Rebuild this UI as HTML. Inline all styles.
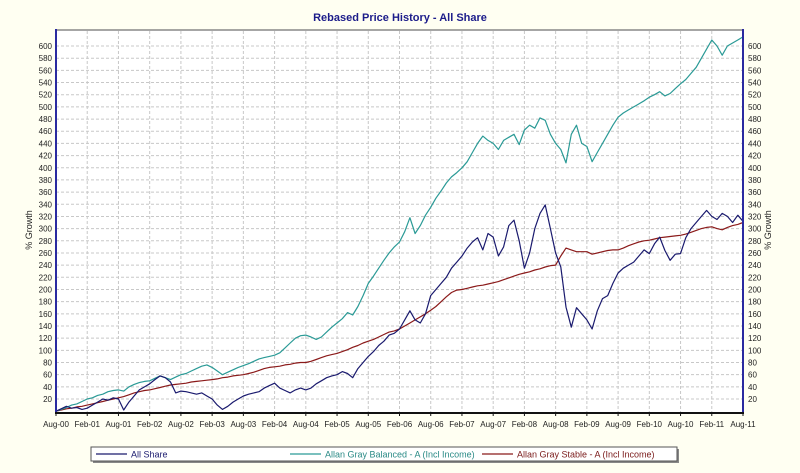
<!DOCTYPE html>
<html><head><meta charset="utf-8"><style>
body{margin:0;background:#fffff2;}
svg{display:block;font-family:"Liberation Sans",sans-serif;}
</style></head><body>
<svg id="chart" width="800" height="473">
<rect x="0" y="0" width="800" height="473" fill="#fffff2"/>
<text x="400" y="21" text-anchor="middle" font-size="11" font-weight="bold" fill="#1c1c8a">Rebased Price History - All Share</text>
<rect x="56" y="30" width="687" height="383" fill="#ffffff"/>
<g id="grid"></g>
<g id="series"></g>
<line x1="56" y1="30" x2="743" y2="30" stroke="#888" stroke-width="1.5"/>
<line x1="56" y1="29" x2="56" y2="414" stroke="#2a2aa0" stroke-width="2"/>
<line x1="743" y1="29" x2="743" y2="414" stroke="#2a2aa0" stroke-width="2"/>
<line x1="55" y1="413" x2="744" y2="413" stroke="#111" stroke-width="2"/>
<g id="labels"></g>
<text transform="translate(32,230) rotate(-90)" text-anchor="middle" font-size="9" fill="#222">% Growth</text>
<text transform="translate(771,230) rotate(-90)" text-anchor="middle" font-size="9" fill="#222">% Growth</text>
<g>
<rect x="93" y="449" width="586" height="14" fill="#888"/>
<rect x="91" y="447" width="586" height="14" fill="#fff" stroke="#555" stroke-width="1"/>
<g><line x1="96" y1="454" x2="127" y2="454" stroke="#1a1a6e" stroke-width="1.2"/><text x="131" y="457.5" font-size="9" fill="#1a1a6e">All Share</text></g>
<g><line x1="290" y1="454" x2="321" y2="454" stroke="#2a9a96" stroke-width="1.2"/><text x="325" y="457.5" font-size="9" fill="#2a8a86">Allan Gray Balanced - A (Incl Income)</text></g>
<g><line x1="482" y1="454" x2="513" y2="454" stroke="#8b1a1a" stroke-width="1.2"/><text x="517" y="457.5" font-size="9" fill="#7a1a1a">Allan Gray Stable - A (Incl Income)</text></g>
</g>
</svg>
<script>
const xTickLabels=["Aug-00","Feb-01","Aug-01","Feb-02","Aug-02","Feb-03","Aug-03","Feb-04","Aug-04","Feb-05","Aug-05","Feb-06","Aug-06","Feb-07","Aug-07","Feb-08","Aug-08","Feb-09","Aug-09","Feb-10","Aug-10","Feb-11","Aug-11"];
const yTicks=[20,40,60,80,100,120,140,160,180,200,220,240,260,280,300,320,340,360,380,400,420,440,460,480,500,520,540,560,580,600];
const allShare=[0,4,8,5,6,3, 5,10,15,20,18,22, 20,2,15,25,35,40, 45,52,58,55,48,30, 33,32,30,28,30,25, 20,10,3,8,15,20, 25,28,30,32,38,42, 46,38,34,30,35,38, 35,38,45,50,55,58, 60,65,62,55,70,80, 90,98,108,115,125,128, 135,150,165,150,145,160, 190,200,210,220,235,245, 255,268,278,285,265,292, 286,255,270,305,314,280, 235,260,300,325,339,300, 260,237,171,138,170,160, 150,135,165,185,190,210, 227,235,240,245,255,265, 259,275,286,264,248,258, 259,285,300,310,320,330, 320,315,325,320,310,322, 312];
const balanced=[0,3,6,10,12,16, 20,22,26,28,32,34, 35,33,40,44,47,49, 50,54,58,55,52,56, 60,62,66,70,74,76, 72,66,60,64,68,72, 75,78,82,86,88,90, 92,96,104,112,120,124, 125,122,118,122,130,138, 145,152,162,158,172,190, 210,222,235,248,260,270, 278,295,318,292,305,322, 335,350,362,375,385,392, 400,410,425,440,452,445, 440,430,445,450,455,438, 462,470,465,482,478,455, 440,430,408,455,470,440, 435,410,425,440,455,470, 483,490,495,500,505,510, 516,520,525,518,522,530, 538,545,555,565,580,595, 610,600,585,600,605,610, 615];
const stable=[0,2,4,5,7,8, 10,12,14,16,18,20, 22,24,27,30,32,34, 35,37,39,41,43,44, 45,46,48,49,50,51, 52,53,55,56,58,59, 60,62,64,67,70,72, 73,74,76,77,79,80, 80,82,85,88,91,93, 95,98,101,105,108,112, 115,118,122,126,130,132, 135,140,145,150,155,160, 166,172,180,188,195,199, 200,202,204,206,207,209, 211,213,216,219,222,225, 227,229,232,234,237,239, 240,255,268,265,262,262, 262,258,260,262,264,265, 265,268,272,275,278,280, 281,283,285,286,287,288, 289,291,294,297,300,302, 303,300,298,302,305,307, 310];

const NS="http://www.w3.org/2000/svg";
const X0=56,X1=743,Y0=411.2,PX=0.6086,NM=132;
function xMonth(i){return X0+i*(X1-X0)/NM;}
function yVal(v){return Y0-v*PX;}
function mk(tag,attrs,parent){const e=document.createElementNS(NS,tag);for(const k in attrs)e.setAttribute(k,attrs[k]);parent.appendChild(e);return e;}
const grid=document.getElementById('grid'),labels=document.getElementById('labels'),series=document.getElementById('series');
yTicks.forEach(v=>{
  const y=yVal(v);
  const g=mk('line',{x1:X0,x2:X1,y1:y,y2:y,stroke:'#c8c8c8','stroke-dasharray':'3,2','stroke-width':1},grid);
  
  
  const l=mk('text',{x:52,y:y+3,'text-anchor':'end','font-size':'8',fill:'#222'},labels);
  l.textContent=v;
  
  
  const r=mk('text',{x:748,y:y+3,'font-size':'8',fill:'#222'},labels);
  r.textContent=v;
  
  
});
xTickLabels.forEach((t,k)=>{
  const x=xMonth(k*6);
  if(k>0&&k<xTickLabels.length-1){
    const g=mk('line',{x1:x,x2:x,y1:31,y2:412,stroke:'#c8c8c8','stroke-dasharray':'3,2','stroke-width':1},grid);
    
    
  }
  const tk=mk('line',{x1:x,x2:x,y1:413,y2:416,stroke:'#111'},labels);
  
  
  const l=mk('text',{x:x,y:427,'text-anchor':'middle','font-size':'8',fill:'#222'},labels);
  l.textContent=t;
  
  
});
function drawLine(data,color,name){
  const pts=data.map((v,i)=>xMonth(i).toFixed(1)+','+yVal(v).toFixed(1)).join(' ');
  const p=mk('polyline',{points:pts,fill:'none',stroke:color,'stroke-width':1.2,'stroke-linejoin':'round'},series);
  
  
}
drawLine(stable,'#8b1a1a','series-stable');
drawLine(balanced,'#2a9a96','series-balanced');
drawLine(allShare,'#1a1a6e','series-all-share');
</script>
</body></html>
